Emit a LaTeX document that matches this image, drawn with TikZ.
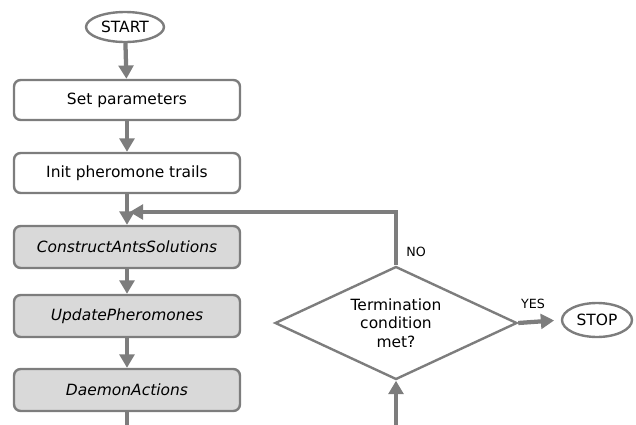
\documentclass[tikz,border=0pt]{standalone}
\usepackage{fontspec}
\setmainfont{DejaVu Sans}
\usetikzlibrary{shapes.geometric,arrows.meta}
\definecolor{linegray}{RGB}{125,125,125}
\definecolor{boxgray}{RGB}{217,217,217}
\tikzset{
 stepbox/.style={draw=linegray,line width=1.8pt,rounded corners=5pt,
   minimum width=169.5pt,minimum height=30pt,fill=white,font=\fontsize{11.6}{14}\selectfont},
 antbox/.style={stepbox,fill=boxgray,minimum height=31.5pt,
   font=\fontsize{11.6}{14}\selectfont\itshape},
 terminal/.style={ellipse,draw=linegray,line width=1.8pt,inner sep=0pt,
   font=\fontsize{11.6}{14}\selectfont},
 flow/.style={->,draw=linegray,line width=3.2pt},
 flowline/.style={draw=linegray,line width=3.2pt},
 answer/.style={font=\fontsize{9.5}{11}\selectfont},
}
\begin{document}
\begin{tikzpicture}[x=0.75pt,y=-0.75pt,>={Triangle[length=10pt,width=11pt]}]
 \useasboundingbox (0,0) rectangle (636,425);
 % left column
 \node[terminal,minimum width=58.5pt,minimum height=22.5pt] (start) at (125,27) {START};
 \node[stepbox] (setp) at (127,100) {Set parameters};
 \node[stepbox] (init) at (127,173) {Init pheromone trails};
 \coordinate (merge) at (127,212);
 \node[antbox] (construct) at (127,247) {ConstructAntsSolutions};
 \node[antbox] (update) at (127,316) {UpdatePheromones};
 \node[antbox] (daemon) at (127,390) {DaemonActions};
 \coordinate (leftend) at (127,425);
 % decision
 \node[diamond,draw=linegray,line width=1.8pt,inner sep=0pt,
   minimum width=181.5pt,minimum height=84.75pt] (cond) at (396,323) {};
 \node[align=center,font=\fontsize{11.6}{14}\selectfont] (condtext) at (cond.center)
   {Termination\\condition\\met?};
 \coordinate (rightin) at (396,425);
 \node[terminal,minimum width=52.5pt,minimum height=25.5pt] (stop) at (597,320) {STOP};
 \draw[flow] (start) -- (setp);
 \draw[flow] (setp) -- (init);
 \draw[flow] (init) -- (construct);
 \draw[flow] (construct) -- (update);
 \draw[flow] (update) -- (daemon);
 \draw[flowline] (daemon) -- (leftend);
 \draw[flow] (rightin) -- (cond.south);
 \draw[flow] (cond.north) -- (cond.north |- merge) -- ([xshift=2pt]merge);
 \draw[flow,shorten >=5pt] (cond.east) -- (stop.west);
 \node[answer] (no) at (416,252) {NO};
 \node[answer] (yes) at (533,304) {YES};
\end{tikzpicture}
\end{document}
